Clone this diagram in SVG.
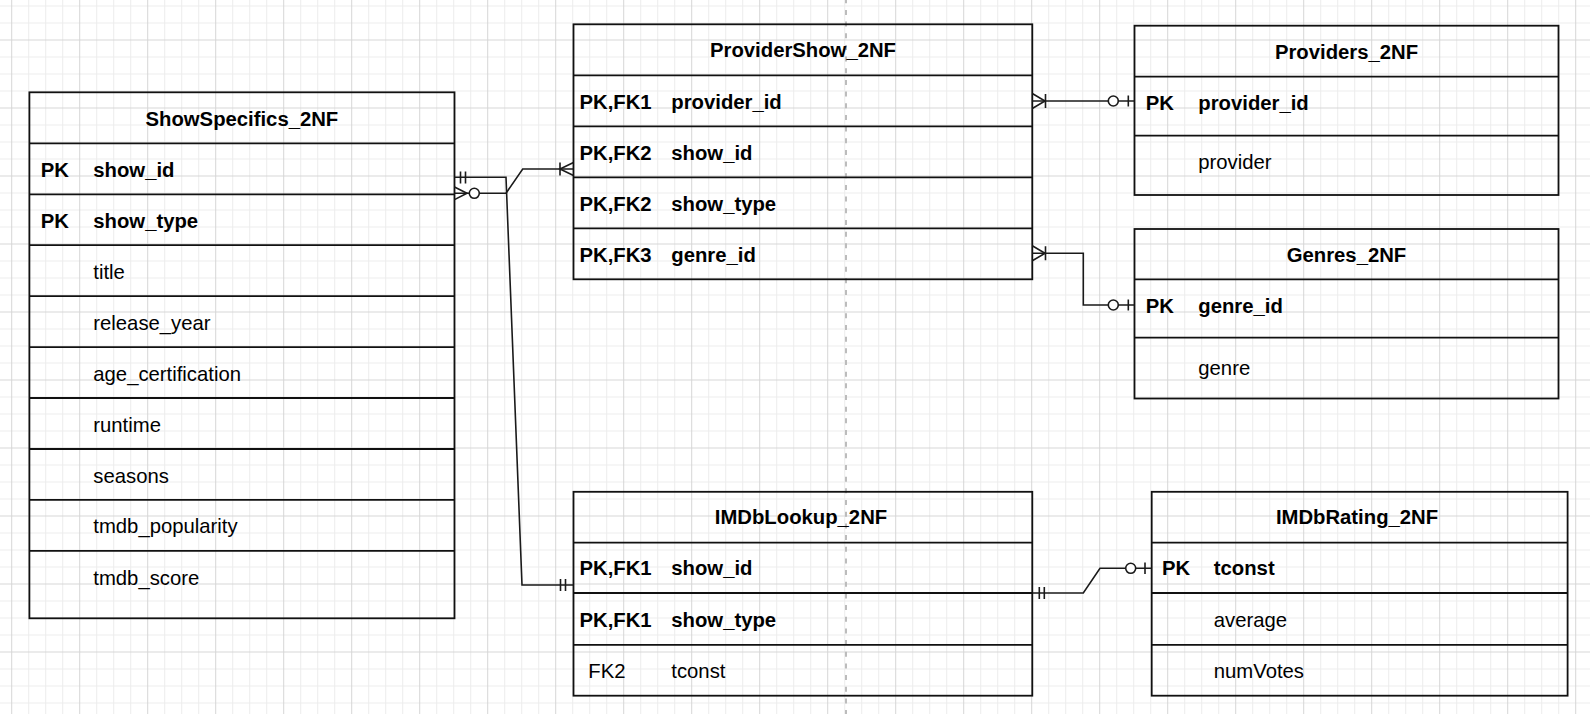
<svg xmlns="http://www.w3.org/2000/svg" width="1590" height="714" viewBox="0 0 1590 714">
<defs>
<pattern id="grid" patternUnits="userSpaceOnUse" x="11.2" y="39.5" width="68" height="68">
<path d="M17.5,0V68M34.5,0V68M51.5,0V68M0,17.5H68M0,34.5H68M0,51.5H68" stroke="#ececec" stroke-width="1" fill="none"/>
<path d="M0.5,0V68M0,0.5H68" stroke="#d6d6d6" stroke-width="1" fill="none"/>
</pattern>
<style>
.tb{fill:none;stroke:#111;stroke-width:1.8}
.sep{stroke:#111;stroke-width:1.8}
text{font-family:"Liberation Sans",Arial,Helvetica,sans-serif;font-size:20.3px;fill:#000}
.h{font-weight:bold;text-anchor:middle}
.b{font-weight:bold}
.c{fill:none;stroke:#1a1a1a;stroke-width:1.6}
.o{fill:#fff;stroke:#1a1a1a;stroke-width:1.6}
</style>
</defs>
<rect width="1590" height="714" fill="#fff"/>
<rect width="1590" height="714" fill="url(#grid)"/>
<path d="M846,0V714" stroke="#bcbcbc" stroke-width="2" stroke-dasharray="5 6.67" stroke-dashoffset="1.77"/>

<g id="ShowSpecifics_2NF">
<rect class="tb" x="29.4" y="92.3" width="425.1" height="526"/>
<path class="sep" d="M29.4,143.3H454.5M29.4,194.3H454.5M29.4,245.2H454.5M29.4,296.2H454.5M29.4,347.1H454.5M29.4,398H454.5M29.4,449H454.5M29.4,499.9H454.5M29.4,550.9H454.5"/>
<text class="h" x="241.9" y="126">ShowSpecifics_2NF</text>
<text class="b" x="40.7" y="177">PK</text><text class="b" x="93.3" y="177">show_id</text>
<text class="b" x="40.7" y="228">PK</text><text class="b" x="93.3" y="228">show_type</text>
<text x="93.3" y="279">title</text>
<text x="93.3" y="330">release_year</text>
<text x="93.3" y="381">age_certification</text>
<text x="93.3" y="431.5">runtime</text>
<text x="93.3" y="482.5">seasons</text>
<text x="93.3" y="533.4">tmdb_popularity</text>
<text x="93.3" y="585">tmdb_score</text>
</g>

<g id="ProviderShow_2NF">
<rect class="tb" x="573.5" y="24.3" width="458.8" height="255"/>
<path class="sep" d="M573.5,75.3H1032.3M573.5,126.3H1032.3M573.5,177.3H1032.3M573.5,228.3H1032.3"/>
<text class="h" x="803" y="57">ProviderShow_2NF</text>
<text class="b" x="579.5" y="108.8">PK,FK1</text><text class="b" x="671.3" y="108.8">provider_id</text>
<text class="b" x="579.5" y="159.8">PK,FK2</text><text class="b" x="671.3" y="159.8">show_id</text>
<text class="b" x="579.5" y="210.8">PK,FK2</text><text class="b" x="671.3" y="210.8">show_type</text>
<text class="b" x="579.5" y="261.8">PK,FK3</text><text class="b" x="671.3" y="261.8">genre_id</text>
</g>

<g id="Providers_2NF">
<rect class="tb" x="1134.5" y="25.7" width="424" height="169.3"/>
<path class="sep" d="M1134.5,76.7H1558.5M1134.5,135.7H1558.5"/>
<text class="h" x="1346.5" y="59">Providers_2NF</text>
<text class="b" x="1145.7" y="110">PK</text><text class="b" x="1198.3" y="110">provider_id</text>
<text x="1198.3" y="168.5">provider</text>
</g>

<g id="Genres_2NF">
<rect class="tb" x="1134.5" y="229" width="424" height="169.5"/>
<path class="sep" d="M1134.5,279.3H1558.5M1134.5,337.7H1558.5"/>
<text class="h" x="1346.5" y="262.3">Genres_2NF</text>
<text class="b" x="1145.7" y="312.6">PK</text><text class="b" x="1198.3" y="312.6">genre_id</text>
<text x="1198.3" y="374.5">genre</text>
</g>

<g id="IMDbLookup_2NF">
<rect class="tb" x="573.5" y="491.8" width="458.8" height="203.9"/>
<path class="sep" d="M573.5,542.7H1032.3M573.5,593H1032.3M573.5,644.9H1032.3"/>
<text class="h" x="801" y="524">IMDbLookup_2NF</text>
<text class="b" x="579.5" y="575">PK,FK1</text><text class="b" x="671.3" y="575">show_id</text>
<text class="b" x="579.5" y="627">PK,FK1</text><text class="b" x="671.3" y="627">show_type</text>
<text x="588.3" y="678.3">FK2</text><text x="671.3" y="678.3">tconst</text>
</g>

<g id="IMDbRating_2NF">
<rect class="tb" x="1151.7" y="491.8" width="415.9" height="203.9"/>
<path class="sep" d="M1151.7,542.7H1567.6M1151.7,593H1567.6M1151.7,644.9H1567.6"/>
<text class="h" x="1357" y="524">IMDbRating_2NF</text>
<text class="b" x="1162" y="575">PK</text><text class="b" x="1213.8" y="575">tconst</text>
<text x="1213.8" y="627">average</text>
<text x="1213.8" y="678.3">numVotes</text>
</g>

<g id="connectors">
<path class="c" d="M454.5,177.3H506L522,585H573.5"/>
<path class="c" d="M460.5,171.5V183.5M465.5,171.5V183.5M560.5,579V591M565.5,579V591"/>
<path class="c" d="M454.5,193.3H506L522.7,169H573.5"/>
<path class="c" d="M454.5,187L467,193.3L454.5,199.6"/>
<circle class="o" cx="474.3" cy="193.3" r="5"/>
<path class="c" d="M573.5,162.5L560,169L573.5,175.5M560,162.5V175.5"/>
<path class="c" d="M1032.3,101H1134.5"/>
<path class="c" d="M1032.3,93.5L1045,101L1032.3,108.5M1045.5,94V108"/>
<circle class="o" cx="1113.3" cy="101" r="5"/>
<path class="c" d="M1128.3,95.5V106.5"/>
<path class="c" d="M1032.3,253.3H1083.3V305H1134.5"/>
<path class="c" d="M1032.3,245.8L1045,253.3L1032.3,260.8M1045.5,246.3V260.3"/>
<circle class="o" cx="1113.3" cy="305" r="5"/>
<path class="c" d="M1128.3,299.5V310.5"/>
<path class="c" d="M1032.3,593H1083.3L1100,568.3H1151.7"/>
<path class="c" d="M1039.3,587V599M1044.3,587V599"/>
<circle class="o" cx="1130.7" cy="568.3" r="5"/>
<path class="c" d="M1145,562.5V574"/>
</g>
</svg>
